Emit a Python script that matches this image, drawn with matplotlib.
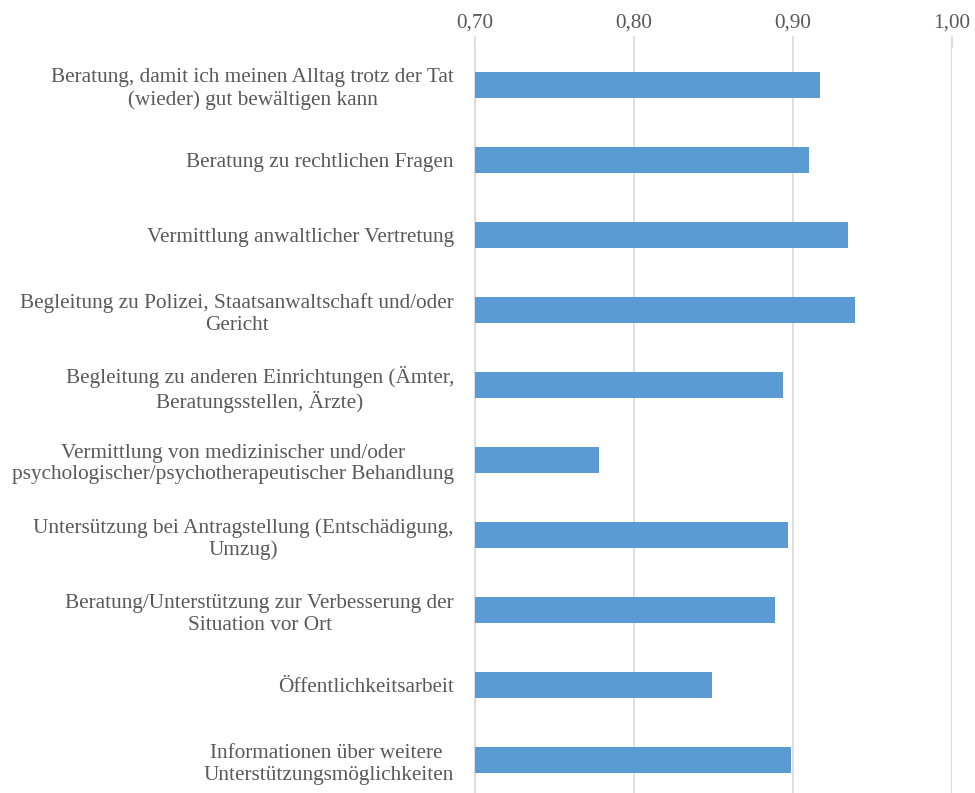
import matplotlib.pyplot as plt
from matplotlib.ticker import FuncFormatter

labels = [
    'Beratung, damit ich meinen Alltag trotz der Tat\n(wieder) gut bewältigen kann',
    'Beratung zu rechtlichen Fragen',
    'Vermittlung anwaltlicher Vertretung',
    'Begleitung zu Polizei, Staatsanwaltschaft und/oder\nGericht',
    'Begleitung zu anderen Einrichtungen (Ämter,\nBeratungsstellen, Ärzte)',
    'Vermittlung von medizinischer und/oder\npsychologischer/psychotherapeutischer Behandlung',
    'Untersützung bei Antragstellung (Entschädigung,\nUmzug)',
    'Beratung/Unterstützung zur Verbesserung der\nSituation vor Ort',
    'Öffentlichkeitsarbeit',
    'Informationen über weitere \nUnterstützungsmöglichkeiten',
]
values = [0.917, 0.910, 0.935, 0.939, 0.894, 0.778, 0.897, 0.889, 0.849, 0.899]
xticks = [0.70, 0.80, 0.90, 1.00]

plt.rcParams['font.family'] = ['Liberation Serif', 'DejaVu Serif']
grey = '#595959'
line = '#D9D9D9'

fig = plt.figure(figsize=(9.75, 7.93), dpi=100)
ax = fig.add_axes([0.487, -0.006, 0.489, 0.946])

y = list(range(len(labels)))
ax.barh(y, values, height=0.35, left=0, color='#5B9BD5', zorder=3)
ax.set_ylim(len(labels) - 0.5, -0.5)
ax.set_xlim(0.70, 1.00)
ax.set_xticks(xticks)
ax.xaxis.set_major_formatter(FuncFormatter(lambda v, p: ('%.2f' % v).replace('.', ',')))
ax.xaxis.tick_top()
ax.tick_params(axis='x', colors=line, labelcolor=grey, labelsize=15.3, length=9, width=1.2, pad=2)
ax.set_yticks(y)
ax.set_yticklabels(labels, multialignment='center', linespacing=1.2)
ax.tick_params(axis='y', length=0, labelcolor=grey, labelsize=15.3, pad=15)
ax.grid(axis='x', color=line, linewidth=1.2, zorder=0)
for s in ['top', 'right', 'bottom']:
    ax.spines[s].set_visible(False)
ax.spines['left'].set_color(line)
ax.spines['left'].set_linewidth(1.2)

plt.savefig('out.png', dpi=100)
